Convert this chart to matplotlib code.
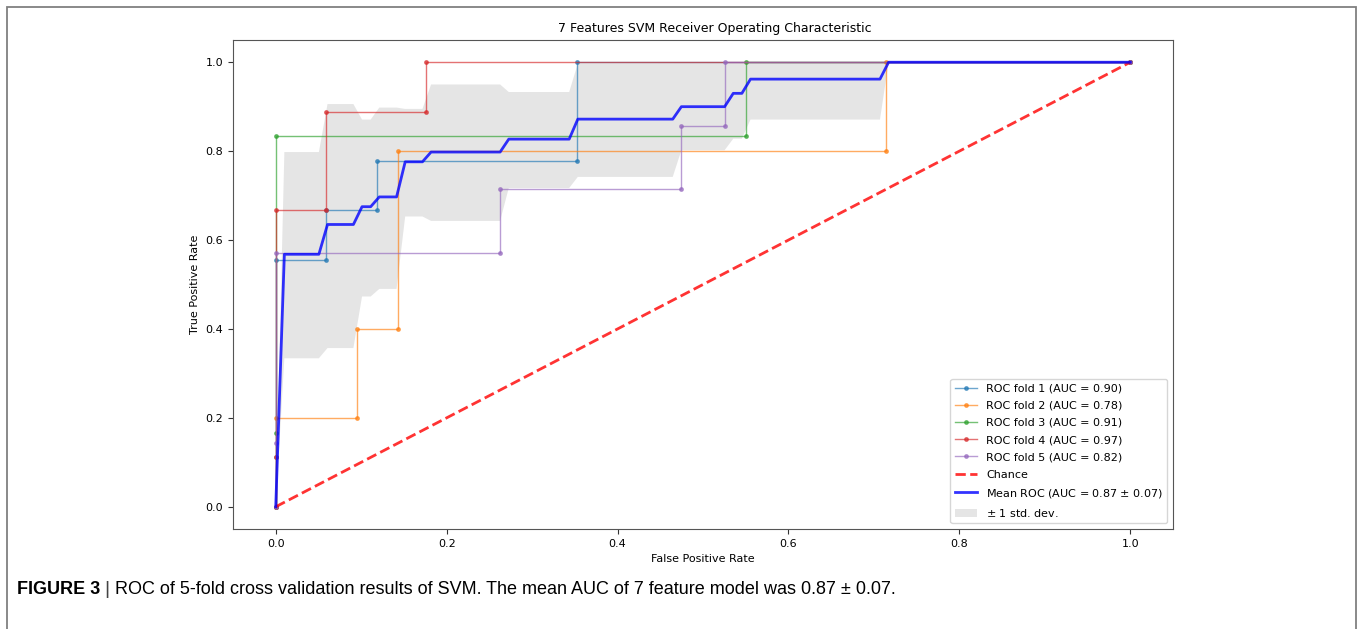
import numpy as np
import matplotlib
matplotlib.use("Agg")
import matplotlib.pyplot as plt
from matplotlib.patches import Rectangle
from matplotlib import font_manager

# ---------------- data ----------------
fold_labels = ["ROC fold 1 (AUC = 0.90)", "ROC fold 2 (AUC = 0.78)",
               "ROC fold 3 (AUC = 0.91)", "ROC fold 4 (AUC = 0.97)",
               "ROC fold 5 (AUC = 0.82)"]

fold1_fpr = [0, 0, 0, 0.059, 0.059, 0.118, 0.118, 0.353, 0.353, 1.0]
fold1_tpr = [0, 0.111, 0.556, 0.556, 0.667, 0.667, 0.778, 0.778, 1.0, 1.0]

fold2_fpr = [0, 0, 0.095, 0.095, 0.143, 0.143, 0.714, 0.714, 1.0]
fold2_tpr = [0, 0.2, 0.2, 0.4, 0.4, 0.8, 0.8, 1.0, 1.0]

fold3_fpr = [0, 0, 0, 0.55, 0.55, 1.0]
fold3_tpr = [0, 0.167, 0.833, 0.833, 1.0, 1.0]

fold4_fpr = [0, 0, 0, 0.059, 0.059, 0.176, 0.176, 1.0]
fold4_tpr = [0, 0.111, 0.667, 0.667, 0.889, 0.889, 1.0, 1.0]

fold5_fpr = [0, 0, 0, 0.263, 0.263, 0.474, 0.474, 0.526, 0.526, 1.0]
fold5_tpr = [0, 0.143, 0.571, 0.571, 0.714, 0.714, 0.857, 0.857, 1.0, 1.0]

mean_fpr = [0, 0.0101, 0.0505, 0.0606, 0.0909, 0.101, 0.1111, 0.1212, 0.1414,
            0.1515, 0.1717, 0.1818, 0.2626, 0.2727, 0.3434, 0.3535, 0.4646,
            0.4747, 0.5253, 0.5354, 0.5455, 0.5556, 0.7071, 0.7172, 1.0]
mean_tpr = [0, 0.568, 0.568, 0.635, 0.635, 0.675, 0.675, 0.697, 0.697,
            0.776, 0.776, 0.798, 0.798, 0.827, 0.827, 0.872, 0.872,
            0.900, 0.900, 0.930, 0.930, 0.962, 0.962, 1.0, 1.0]

upper_fpr = [0, 0.0101, 0.0505, 0.0606, 0.0909, 0.101, 0.1111, 0.1212, 0.1414,
             0.1515, 0.1717, 0.1818, 0.2626, 0.2727, 0.3434, 0.3535, 1.0]
upper_tpr = [0, 0.798, 0.798, 0.906, 0.906, 0.871, 0.871, 0.898, 0.898,
             0.895, 0.895, 0.950, 0.950, 0.933, 0.933, 0.997, 1.0]

lower_fpr = mean_fpr
lower_tpr = [0, 0.334, 0.334, 0.357, 0.357, 0.473, 0.473, 0.490, 0.490,
             0.653, 0.653, 0.643, 0.643, 0.717, 0.717, 0.742, 0.742,
             0.802, 0.802, 0.828, 0.828, 0.871, 0.871, 1.0, 1.0]

chance_x = [0, 1]
chance_y = [0, 1]

mean_label = "Mean ROC (AUC = 0.87 $\\pm$ 0.07)"
std_label = "$\\pm$ 1 std. dev."
title = "7 Features SVM Receiver Operating Characteristic"
x_label = "False Positive Rate"
y_label = "True Positive Rate"
caption_bold = "FIGURE 3"
caption_rest = ("ROC of 5-fold cross validation results of SVM. "
                "The mean AUC of 7 feature model was 0.87 \u00b1 0.07.")

# ---------------- figure ----------------
W, H = 1358, 629
fig = plt.figure(figsize=(W / 100, H / 100), dpi=100)
ax = fig.add_axes([233 / W, 1 - 529 / H, (1173 - 233) / W, (529 - 40) / H])

FS = 8
folds = [(fold1_fpr, fold1_tpr), (fold2_fpr, fold2_tpr), (fold3_fpr, fold3_tpr),
         (fold4_fpr, fold4_tpr), (fold5_fpr, fold5_tpr)]
colors = ["#1f77b4", "#ff7f0e", "#2ca02c", "#d62728", "#9467bd"]
for (fx, fy), c, lab in zip(folds, colors, fold_labels):
    ax.plot(fx, fy, color=c, lw=1, alpha=0.65, marker='.', markersize=5,
            label=lab)

ax.plot(chance_x, chance_y, linestyle='--', lw=2, color='r', alpha=0.8,
        label='Chance')
ax.plot(mean_fpr, mean_tpr, color='b', lw=2, alpha=0.8, label=mean_label)
ax.fill(np.concatenate([upper_fpr, lower_fpr[::-1]]),
        np.concatenate([upper_tpr, lower_tpr[::-1]]),
        color='grey', alpha=0.2, lw=0, label=std_label)

ax.set_xlim(-0.05, 1.05)
ax.set_ylim(-0.05, 1.05)
ax.set_xticks([0.0, 0.2, 0.4, 0.6, 0.8, 1.0])
ax.set_yticks([0.0, 0.2, 0.4, 0.6, 0.8, 1.0])
ax.tick_params(labelsize=FS, color='#333333')
for s in ax.spines.values():
    s.set_color('#555555')
ax.set_xlabel(x_label, fontsize=FS)
ax.set_ylabel(y_label, fontsize=FS)
ax.set_title(title, fontsize=9, x=0.5 + 12 / 940)
ax.legend(loc='lower right', fontsize=FS, labelspacing=0.65)

# outer frame of the published figure
fig.patches.append(Rectangle((7 / W, -0.05), (1356 - 7) / W, 1.05 - 6.5 / H,
                             transform=fig.transFigure, fill=False,
                             edgecolor='#808080', lw=1.3))

# caption
names = {f.name for f in font_manager.fontManager.ttflist}
cap_font = 'Liberation Sans Narrow' if 'Liberation Sans Narrow' in names else 'Liberation Sans'
CAP = 13
cy = 1 - 590 / H
t1 = fig.text(17 / W, cy, caption_bold, fontsize=CAP, fontweight='bold',
              family=cap_font, va='center', ha='left')
fig.canvas.draw()
r = fig.canvas.get_renderer()
bb = t1.get_window_extent(r)
t2 = fig.text((bb.x1 + 4) / W, cy, "|", fontsize=CAP + 1, family=cap_font,
              va='center', ha='left', color='#444444')
fig.canvas.draw()
bb2 = t2.get_window_extent(r)
fig.text((bb2.x1 + 6) / W, cy, caption_rest, fontsize=CAP, family=cap_font,
         va='center', ha='left')

fig.savefig("out.png", dpi=100)
